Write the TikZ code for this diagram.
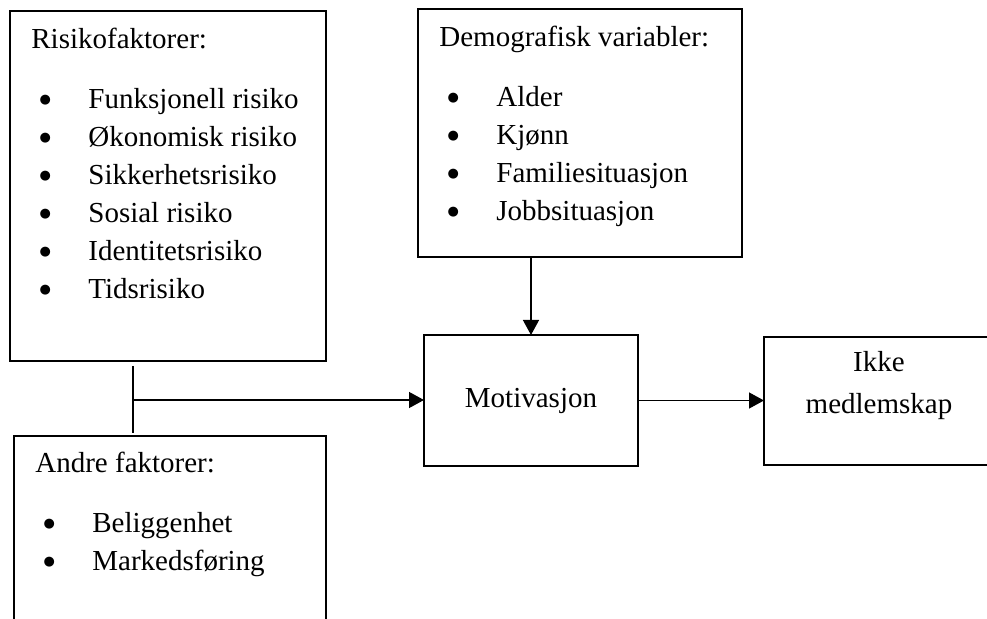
\documentclass[tikz,border=0pt]{standalone}
\usepackage{fontspec}
\setmainfont{Liberation Serif}
\newfontfamily\punktfont{DejaVu Sans}
\usetikzlibrary{arrows.meta}

\newcommand{\punkt}[1]{\makebox[28.5pt][l]{\makebox[14pt][c]{\raisebox{2.6pt}{\punktfont\fontsize{6.5}{7}\selectfont ●}}}#1}

\begin{document}
\begin{tikzpicture}[x=0.5pt, y=-0.5pt,
	boks/.style={draw, line width=0.65pt, inner sep=0pt, outer sep=0pt, anchor=north west},
	tekst/.style={inner sep=0pt, font=\fontsize{14.5}{19}\selectfont},
	pil/.style={line width=0.65pt, -{Triangle[length=7.5pt, width=8pt]}}]
	\useasboundingbox (0,0) rectangle (987,619);
	\clip (0,0) rectangle (987,619);

	%% Boksene
	\node[boks, minimum width=158pt, minimum height=175pt] (risiko) at (10,11) {};
	\node[boks, minimum width=162pt, minimum height=124pt] (demo) at (418,9) {};
	\node[boks, minimum width=156pt, minimum height=102pt] (andre) at (14,436) {};
	\node[boks, tekst, minimum width=107pt, minimum height=65.5pt] (motiv) at (424,335) {Motivasjon};
	\node[boks, minimum width=115pt, minimum height=64pt] (ikke) at (764,337) {};

	%% Tekst
	\node[tekst, anchor=base west] (risiko tekst) at ([shift={(21,38)}]risiko.north west) {%
		\begin{tabular}[t]{@{}l@{}}
			Risikofaktorer:\\[11pt]
			\punkt{Funksjonell risiko}\\
			\punkt{Økonomisk risiko}\\
			\punkt{Sikkerhetsrisiko}\\
			\punkt{Sosial risiko}\\
			\punkt{Identitetsrisiko}\\
			\punkt{Tidsrisiko}
		\end{tabular}};
	\node[tekst, anchor=base west] (demo tekst) at ([shift={(21,38)}]demo.north west) {%
		\begin{tabular}[t]{@{}l@{}}
			Demografisk variabler:\\[11pt]
			\punkt{Alder}\\
			\punkt{Kjønn}\\
			\punkt{Familiesituasjon}\\
			\punkt{Jobbsituasjon}
		\end{tabular}};
	\node[tekst, anchor=base west] (andre tekst) at ([shift={(21,37)}]andre.north west) {%
		\begin{tabular}[t]{@{}l@{}}
			Andre faktorer:\\[11pt]
			\punkt{Beliggenhet}\\
			\punkt{Markedsføring}
		\end{tabular}};
	\node[tekst, anchor=base] (ikke tekst) at ([yshift=-17.5pt]ikke.north) {%
		\begin{tabular}[t]{@{}c@{}}
			Ikke\\[2pt]
			medlemskap
		\end{tabular}};

	%% Pilene
	\coordinate (stamme) at (133,400);
	\draw[line width=0.65pt] ([yshift=-2.5pt]stamme |- risiko.south) -- ([yshift=1.5pt]stamme |- andre.north);
	\draw[pil] (stamme) -- (stamme -| motiv.west);
	\draw[pil] (motiv.north |- demo.south) -- (motiv.north);
	\draw[pil] (motiv.east) -- (motiv.east -| ikke.west);
\end{tikzpicture}
\end{document}
